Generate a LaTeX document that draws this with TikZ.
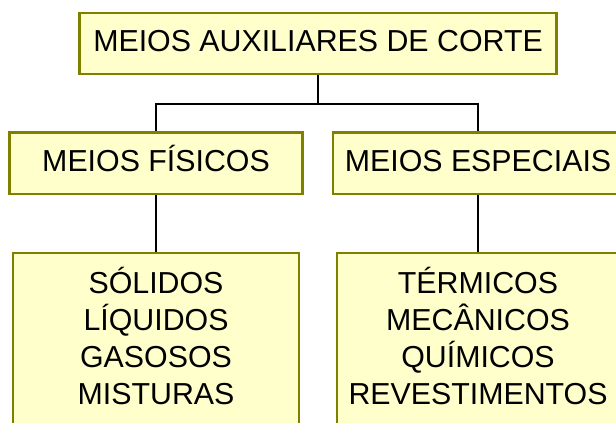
\documentclass[tikz,border=0pt]{standalone}
\usepackage{fontspec}
\setmainfont{Liberation Sans}
\usetikzlibrary{positioning}

\definecolor{boxfill}{RGB}{255,255,204}
\definecolor{boxline}{RGB}{128,128,0}

\tikzset{
  meiobox/.style={draw=boxline, fill=boxfill, line width=1.6pt, inner sep=0pt,
    align=center, font=\fontsize{22.75}{27.75}\selectfont},
  titlebox/.style={meiobox, text height=16.3pt, text depth=4pt},
  conn/.style={draw=black, line width=1.5pt}
}

\begin{document}
\begin{tikzpicture}[x=0.75pt,y=0.75pt,yscale=-1,xscale=1]
            \useasboundingbox (0,0) rectangle (616,422);
            \clip (0,0) rectangle (616,422);

            % Top box
            \node [titlebox, minimum width=357.75pt, minimum height=45.75pt] (aux) at (318,43.5) {MEIOS AUXILIARES DE CORTE};

            % Middle boxes
            \node [titlebox, minimum width=219.75pt, minimum height=46.1pt] (fisicos) at (156,163.2) {MEIOS FÍSICOS};
            \node [titlebox, minimum width=217.5pt, minimum height=46.1pt] (especiais) at (478,163.2) {MEIOS ESPECIAIS};

            % Bottom boxes
            \node [meiobox, minimum width=214.5pt, minimum height=129pt] (listfis) at (156,339) {S\smash{Ó}LIDOS\\LÍQUIDOS\\GASOSOS\\MISTURAS};
            \node [meiobox, minimum width=211.5pt, minimum height=129pt] (listesp) at (478,339) {T\smash{É}RMICOS\\MECÂNICOS\\QUÍMICOS\\REVESTIMENTOS};

            % Connectors
            \coordinate (split) at (aux.south |- 0,104);
            \draw [conn] (aux.south) -- (split);
            \draw [conn] (split) -| (fisicos.north);
            \draw [conn] (split) -| (especiais.north);
            \draw [conn] (fisicos.south) -- (listfis.north);
            \draw [conn] (especiais.south) -- (listesp.north);

\end{tikzpicture}
\end{document}
